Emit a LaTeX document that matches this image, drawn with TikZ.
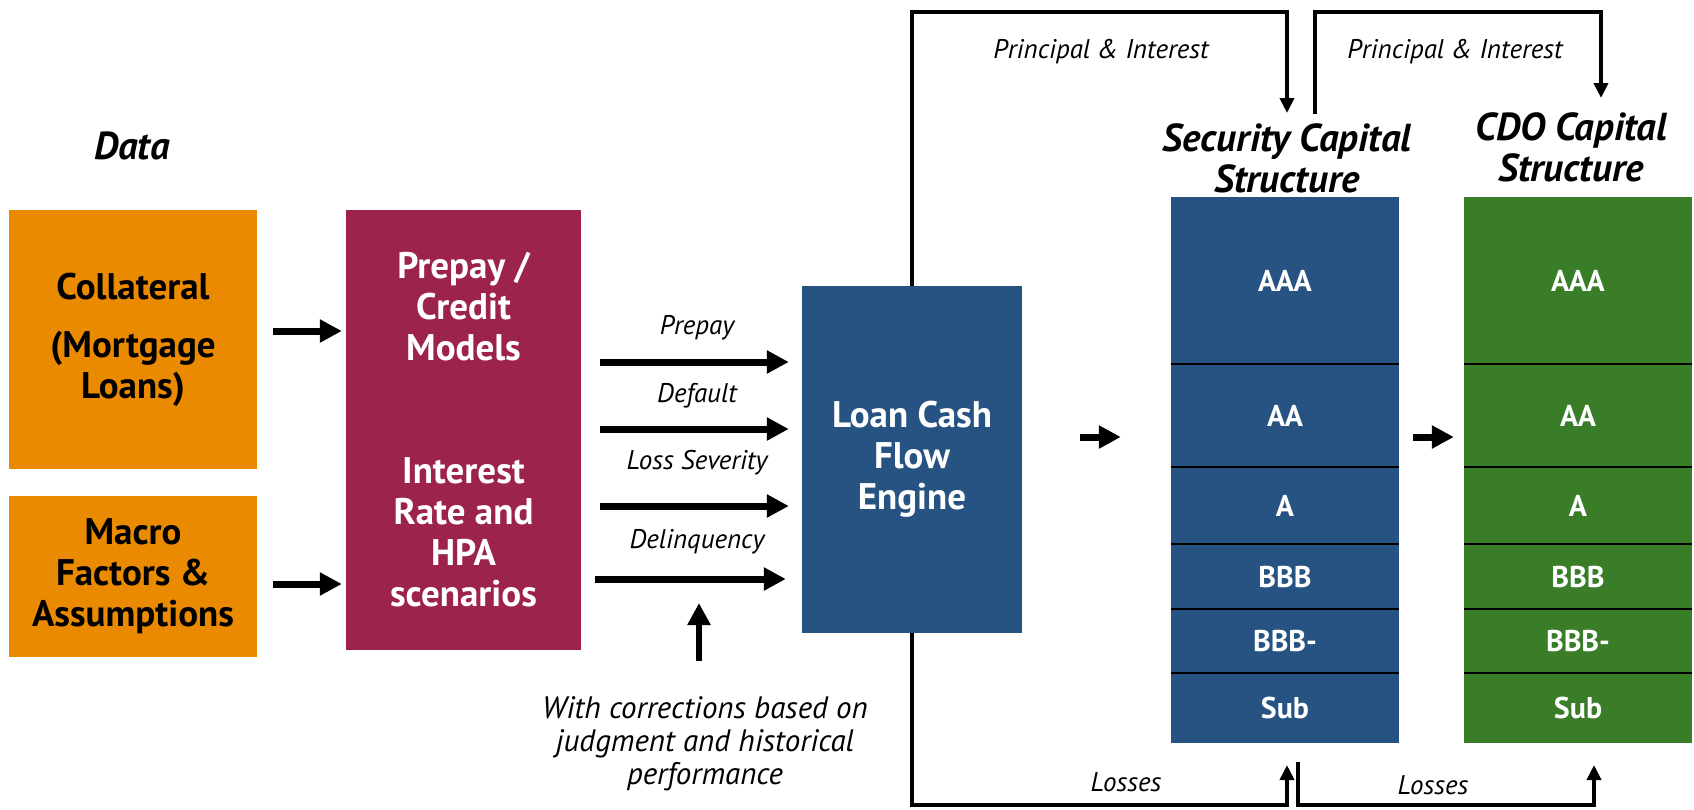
\documentclass[tikz,border=0pt]{standalone}
\usepackage{fontspec}
\setmainfont{PT Sans}
\usetikzlibrary{arrows.meta}

\definecolor{dataorange}{RGB}{233,138,0}
\definecolor{modelred}{RGB}{156,35,78}
\definecolor{secblue}{RGB}{39,83,130}
\definecolor{cdogreen}{RGB}{57,125,41}

\begin{document}
\begin{tikzpicture}[x=1pt, y=-1pt,
    block/.style={inner sep=0pt, align=center, font=\fontsize{37}{41}\selectfont\bfseries},
    tier/.style={inner sep=0pt, minimum width=228pt, text=white, font=\fontsize{30}{32}\selectfont\bfseries},
    seam/.style={line width=2pt, black},
    head/.style={inner sep=0pt, align=center, font=\fontsize{39}{41}\selectfont\bfseries\itshape},
    tag/.style={inner sep=0pt, align=center, font=\fontsize{27}{33}\selectfont\itshape},
    feed/.style={line width=7pt, -{Triangle[length=22pt,width=22pt]}},
    link/.style={line width=4pt, -{Triangle[length=15pt,width=14pt]}}]
  \useasboundingbox (0,0) rectangle (1694,809);

  % inputs and models
  \node[tag, font=\fontsize{39}{40}\selectfont\bfseries\itshape] (data) at (132,146) {Data};
  \node[block, fill=dataorange, minimum width=248pt, minimum height=259pt] (coll) at (133,339.5)
    {Collateral\\[17pt](Mortgage\\Loans)};
  \node[block, fill=dataorange, minimum width=248pt, minimum height=161pt] (macro) at (133,576.5)
    {Macro\\Factors \&\\Assumptions};
  \node[block, fill=modelred, text=white, minimum width=235pt, minimum height=440pt] (mod) at (463.5,430)
    {Prepay /\\Credit\\Models\\[82pt]Interest\\Rate and\\HPA\\scenarios};
  \node[block, fill=secblue, text=white, minimum width=220pt, minimum height=347pt] (eng) at (912,459.5)
    {Loan Cash\\Flow\\Engine};

  \coordinate (q1) at (0,331);
  \coordinate (q2) at (0,584);
  \draw[feed, shorten <=16pt, shorten >=4pt] (coll.east |- q1) -- (mod.west |- q1);
  \draw[feed, shorten <=16pt, shorten >=4pt] (macro.east |- q2) -- (mod.west |- q2);

  % model outputs into the engine
  \coordinate (r1) at (0,362);
  \coordinate (r2) at (0,429);
  \coordinate (r3) at (0,506);
  \coordinate (r4) at (0,579);
  \draw[feed, shorten <=19pt, shorten >=13pt] (mod.east |- r1) -- (eng.west |- r1);
  \draw[feed, shorten <=19pt, shorten >=13pt] (mod.east |- r2) -- (eng.west |- r2);
  \draw[feed, shorten <=19pt, shorten >=13pt] (mod.east |- r3) -- (eng.west |- r3);
  \draw[feed, shorten <=14pt, shorten >=16pt] (mod.east |- r4) -- (eng.west |- r4);
  \node[tag] (lprepay) at (697,328) {Prepay};
  \node[tag] (ldefault) at (697,396) {Default};
  \node[tag] (lseverity) at (697,463) {Loss Severity};
  \node[tag] (ldelinq) at (697,542) {Delinquency};

  \node[tag, font=\fontsize{31}{33}\selectfont\itshape] (note) at (705,744)
    {With corrections based on\\judgment and historical\\performance};
  \coordinate (fix) at (699,603);
  \draw[feed, line width=6pt, shorten <=36pt] (note.north -| fix) -- (fix);

  % capital structures
  \node[head] (sectitle) at (1287,158) {Security Capital\\Structure};
  \node[head] (cdotitle) at (1571,147) {CDO Capital\\Structure};
  \foreach \lab/\mid/\tall [count=\i] in {AAA/280.5/167, AA/415.5/103, A/505.5/77,
      BBB/576.5/65, BBB-/641/64, Sub/708/70} {
    \node[tier, fill=secblue, minimum height=\tall pt] (s\i) at (1285,\mid) {\lab};
    \node[tier, fill=cdogreen, minimum height=\tall pt] (c\i) at (1578,\mid) {\lab};
  }
  \foreach \i in {1,...,5} {
    \draw[seam] (s\i.south west) -- (s\i.south east);
    \draw[seam] (c\i.south west) -- (c\i.south east);
  }

  \coordinate (m1) at (0,437);
  \draw[feed, shorten <=58pt, shorten >=50pt] (eng.east |- m1) -- (s2.west |- m1);
  \draw[feed, shorten <=14pt, shorten >=10pt] (s2.east |- m1) -- (c2.west |- m1);

  % cash paths over the top and losses along the bottom
  \coordinate (ptop) at (0,12);
  \coordinate (pbot) at (0,805);
  \coordinate (secin) at (1287,113);
  \coordinate (secout) at (1315,114);
  \coordinate (cdoin) at (1601,98);
  \coordinate (secloss) at (1287,765);
  \coordinate (lossout) at (1298,762);
  \coordinate (cdoloss) at (1594,765);
  \draw[link] (eng.north) |- (secin |- ptop) -- (secin);
  \draw[link] (secout) |- (cdoin |- ptop) -- (cdoin);
  \draw[link] (eng.south) |- (secloss |- pbot) -- (secloss);
  \draw[link] (lossout) |- (cdoloss |- pbot) -- (cdoloss);
  \node[tag] (pi1) at (1101,52) {Principal \& Interest};
  \node[tag] (pi2) at (1455,52) {Principal \& Interest};
  \node[tag] (loss1) at (1126,782) {Losses};
  \node[tag] (loss2) at (1433,785) {Losses};
\end{tikzpicture}
\end{document}
